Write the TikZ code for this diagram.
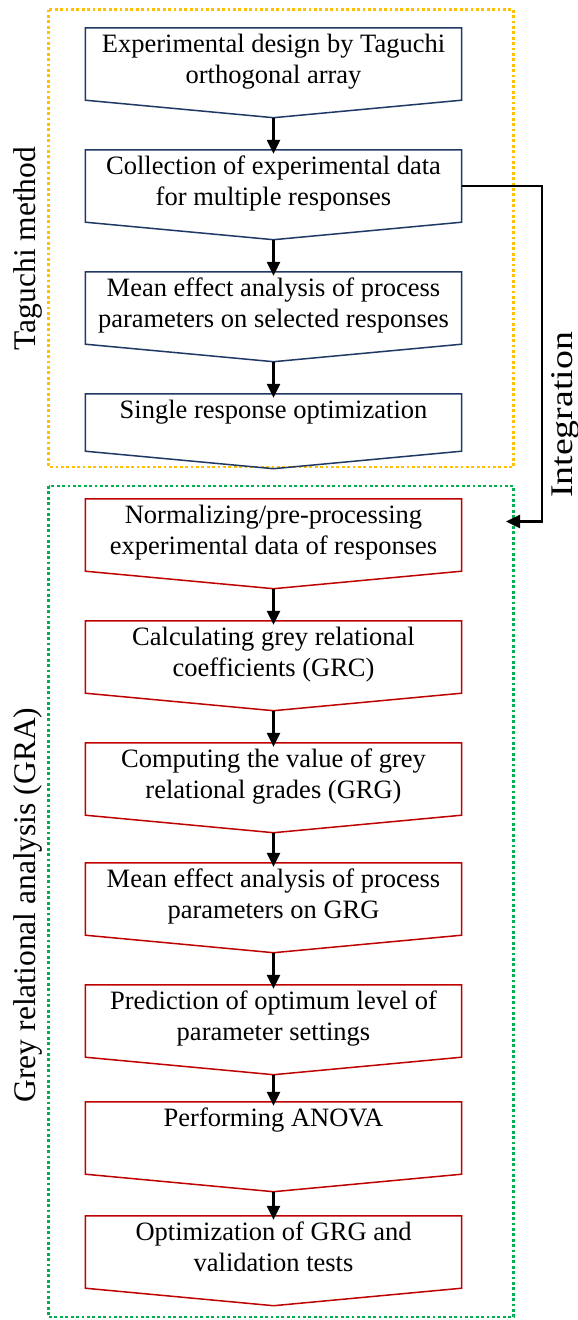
\documentclass[tikz,border=0pt]{standalone}
\usepackage{fontspec}
\setmainfont{Liberation Serif}
\usetikzlibrary{arrows.meta,calc}
\definecolor{navy}{RGB}{31,56,100}
\definecolor{gred}{RGB}{192,0,0}
\definecolor{tgold}{RGB}{255,192,0}
\definecolor{ggreen}{RGB}{0,176,80}
% #1 name, #2 top, #3 height, #4 style, #5 baseline offset of last line, #6 text
\newcommand{\flowbox}[6]{%
  \node[box,minimum height=#3pt] (#1) at (273.5,{#2+#3/2}) {};
  \draw[#4] (#1.north west) -- (#1.north east) -- (#1.south east) -- ($(#1.south)+(0,17.5)$) -- (#1.south west) -- cycle;
  \node[txt] (#1t) at ($(#1.north)+(0,#5)$) {#6};
  \coordinate (#1p) at ($(#1.south)+(0,17.5)$);
}
\begin{document}
\begin{tikzpicture}[x=1pt,y=-1pt,
  box/.style={minimum width=376pt,inner sep=0pt},
  txt/.style={font=\fontsize{26.5}{31.5}\selectfont,align=center,inner sep=0pt,anchor=base},
  flow/.style={line width=2.4pt,line join=miter,-{Triangle[width=13pt,length=14pt]}},
  tbox/.style={draw=navy,line width=1.5pt},
  gbox/.style={draw=gred,line width=1.5pt},
  frame/.style={line width=2.8pt,dash pattern=on 2.8pt off 2.6pt},
  side/.style={font=\fontsize{31.5}{36}\selectfont,rotate=90,anchor=base,inner sep=0pt}]
\useasboundingbox (0,0) rectangle (578,1320);
\fill[white] (0,0) rectangle (578,1320);
% frames
\draw[frame,tgold] (48.5,9.6) rectangle (513.6,467);
\draw[frame,ggreen] (48.5,486) rectangle (513.6,1317);
% Taguchi boxes
\flowbox{b1}{28}{72}{tbox}{56}{Experimental design by Taguchi\\orthogonal array}
\flowbox{b2}{150}{72}{tbox}{56}{Collection of experimental data\\for multiple responses}
\flowbox{b3}{272}{72}{tbox}{56}{Mean effect analysis of process\\parameters on selected responses}
\flowbox{b4}{394}{57}{tbox}{24.5}{Single response optimization}
% GRA boxes
\flowbox{b5}{499}{72}{gbox}{56}{Normalizing/pre-processing\\experimental data of responses}
\flowbox{b6}{621}{72}{gbox}{56}{Calculating grey relational\\coefficients (GRC)}
\flowbox{b7}{743}{72}{gbox}{56}{Computing the value of grey\\relational grades (GRG)}
\flowbox{b8}{863}{72}{gbox}{56}{Mean effect analysis of process\\parameters on GRG}
\flowbox{b9}{985}{72}{gbox}{56}{Prediction of optimum level of\\parameter settings}
\flowbox{b10}{1102}{72}{gbox}{24.5}{Performing ANOVA}
\flowbox{b11}{1216}{72}{gbox}{56}{Optimization of GRG and\\validation tests}
% arrows
\draw[flow,shorten >=-4pt] (b1p) -- (b2.north);
\draw[flow,shorten >=-4pt] (b2p) -- (b3.north);
\draw[flow,shorten >=-4pt] (b3p) -- (b4.north);
\draw[flow,shorten >=-4pt] (b5p) -- (b6.north);
\draw[flow,shorten >=-4pt] (b6p) -- (b7.north);
\draw[flow,shorten >=-4pt] (b7p) -- (b8.north);
\draw[flow,shorten >=-4pt] (b8p) -- (b9.north);
\draw[flow,shorten >=-4pt] (b9p) -- (b10.north);
\draw[flow,shorten >=-4pt] (b10p) -- (b11.north);
% integration
\coordinate (intg) at (506,521.5);
\draw[flow] (b2.east) -- ++(80,0) |- (intg);
% side labels
\node[side] (lt) at (35,248.5) {Taguchi method};
\node[side] (lg) at (35,905) {Grey relational analysis (GRA)};
\node[side,xscale=1.2] (li) at (572,415) {Integration};
\end{tikzpicture}
\end{document}
